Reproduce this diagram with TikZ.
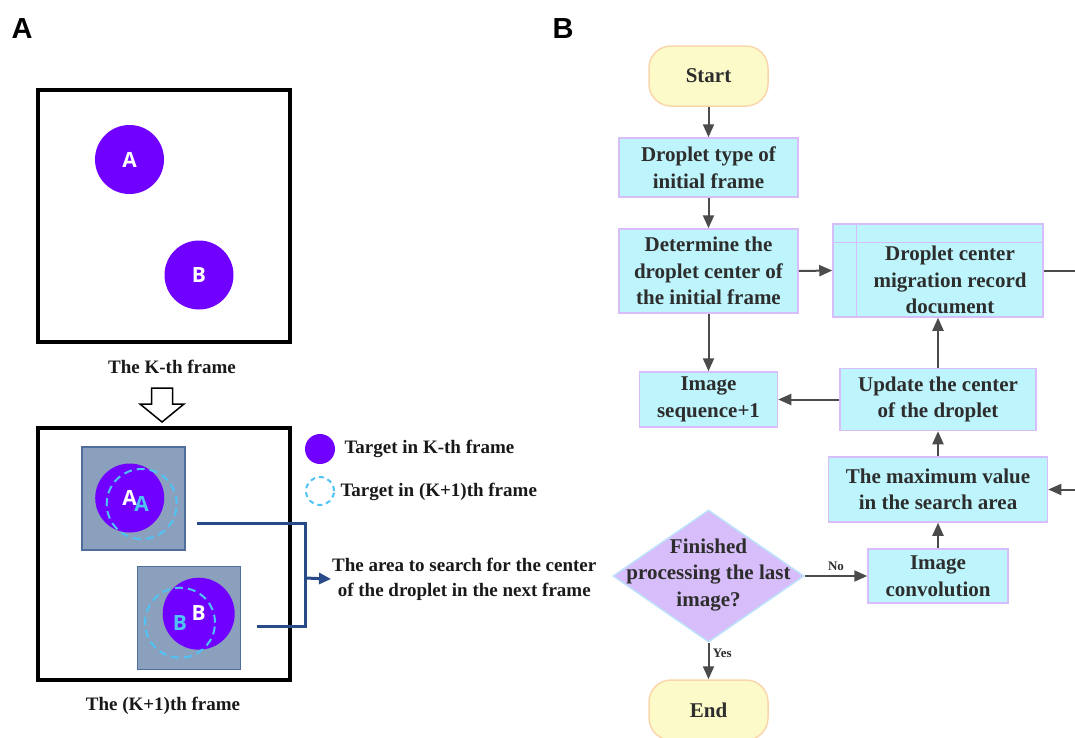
\documentclass[tikz,border=0pt]{standalone}
\usepackage{fontspec}
\setmainfont{Liberation Serif}
\newfontfamily\panelfont{Liberation Sans}
\newfontfamily\circfont{Open Sans}
\usetikzlibrary{shapes.geometric,arrows.meta}
\definecolor{purp}{RGB}{112,0,255}
\definecolor{ghostc}{RGB}{80,195,245}
\definecolor{sqf}{RGB}{138,160,188}
\definecolor{sqb}{RGB}{80,110,155}
\definecolor{connc}{RGB}{40,75,135}
\definecolor{termf}{RGB}{252,250,200}
\definecolor{termb}{RGB}{250,215,170}
\definecolor{procf}{RGB}{190,245,252}
\definecolor{procb}{RGB}{215,190,250}
\definecolor{decf}{RGB}{215,190,250}
\definecolor{decb}{RGB}{190,225,250}
\definecolor{arrc}{RGB}{75,75,75}
\definecolor{txtc}{RGB}{45,45,45}
\tikzset{
  panel/.style={font=\panelfont\bfseries\fontsize{29}{29}\selectfont, inner sep=0pt},
  frame/.style={draw=black, line width=4pt, minimum size=252pt, inner sep=0pt},
  drop/.style={circle, fill=purp, minimum size=69pt, inner sep=0pt, text=white, font=\circfont\bfseries\fontsize{21}{21}\selectfont},
  ghost/.style={circle, draw=ghostc, dash pattern=on 8pt off 5pt, line width=2pt, minimum size=70pt, inner sep=0pt, text=ghostc, font=\circfont\bfseries\fontsize{21}{21}\selectfont},
  sq/.style={draw=sqb, fill=sqf, line width=1.2pt, minimum size=103pt, inner sep=0pt},
  lab/.style={font=\bfseries\fontsize{19}{25}\selectfont, text=black!90},
  conn/.style={draw=connc, line width=3pt},
  ftxt/.style={font=\bfseries\fontsize{21}{26.5}\selectfont, text=txtc, align=center},
  term/.style={ftxt, rectangle, rounded corners=22pt, draw=termb, fill=termf, line width=1.5pt, minimum width=119pt, minimum height=60pt},
  proc/.style={ftxt, rectangle, draw=procb, fill=procf, line width=1.5pt, inner sep=0pt},
  dec/.style={diamond, draw=decb, fill=decf, line width=1.5pt, minimum width=191pt, minimum height=132pt, inner sep=0pt, aspect=1.447},
  flow/.style={draw=arrc, line width=2pt, -{Triangle[length=13pt,width=11pt]}},
  small/.style={font=\bfseries\fontsize{13}{13}\selectfont, text=txtc}
}
\begin{document}
\begin{tikzpicture}[x=1pt,y=-1pt]
\useasboundingbox (0,0) rectangle (1075,737);
\clip (0,0) rectangle (1075,737);
\fill[white] (0,0) rectangle (1075,737);

% ---------- Panel A ----------
\node[panel] (pa) at (22,29) {A};
\node[panel] (pb) at (563,29) {B};

\node[frame] (f1) at (164,216) {};
\node[drop] (da) at (129.5,159.5) {A};
\node[drop] (db) at (199,275) {B};
\node[lab] (l1) at (172,367) {The K-th frame};

\draw[black, line width=1.5pt, fill=white, line join=miter]
  (151.5,388) -- (172.5,388) -- (172.5,404) -- (184,404) -- (162,422)
  -- (140,404) -- (151.5,404) -- cycle;

\node[frame] (f2) at (164,553.5) {};
\node[sq] (sa) at (133.5,498.5) {};
\node[sq] (sb) at (189,618) {};
\node[drop] (da2) at (129.7,498) {A};
\node[ghost] (ga2) at (141.7,504) {\raisebox{-2pt}{A}};
\node[drop, minimum size=72pt] (db2) at (198.7,613.7) {\raisebox{2pt}{B}};
\node[ghost] (gb2) at (180,622.7) {B};
\node[lab] (l2) at (163,706) {The (K+1)th frame};

% legend
\node[drop, minimum size=30pt] (lg1) at (320,449) {};
\node[ghost, minimum size=28pt, dash pattern=on 5pt off 4pt] (lg2) at (320,491) {};
\node[lab, anchor=west] (lt1) at (341,449) {Target in K-th frame};
\node[lab, anchor=west] (lt2) at (337,492) {Target in (K+1)th frame};

\node[lab, align=center, anchor=west, inner sep=1pt] (area) at (331,579)
  {The area to search for the center\\of the droplet in the next frame};

\coordinate (ca) at (197,523);
\coordinate (cb) at (257,626);
\coordinate (cj) at (305,578);
\draw[conn] (ca) -| (cj) |- (cb);
\draw[conn, -{Triangle[length=12pt,width=11pt]}] (cj) -- (area.west);

% ---------- Panel B ----------
\node[term] (start) at (708.5,76) {Start};
\node[proc, minimum width=179pt, minimum height=59pt] (dtype) at (708.5,167.5) {Droplet type of\\initial frame};
\node[proc, minimum width=179pt, minimum height=84pt] (det) at (708.5,271) {Determine the\\droplet center of\\the initial frame};
\node[proc, minimum width=210pt, minimum height=93pt] (doc) at (938,270.5) {};
\draw[procb, line width=1.5pt] ([xshift=24pt]doc.north west) -- ([xshift=24pt]doc.south west);
\draw[procb, line width=1.5pt] ([yshift=-19pt]doc.north west) -- ([yshift=-19pt]doc.north east);
\node[ftxt] (doct) at (950,280) {Droplet center\\migration record\\document};

\node[proc, minimum width=138pt, minimum height=55pt] (seq) at (708.5,399.5) {Image\\sequence+1};
\node[proc, minimum width=196pt, minimum height=62pt] (upd) at (938,399.5) {Update the center\\of the droplet};
\node[proc, minimum width=219pt, minimum height=65pt] (max) at (938,489.5) {The maximum value\\in the search area};
\node[proc, minimum width=140pt, minimum height=54pt] (conv) at (938,576) {Image\\convolution};
\node[dec] (dia) at (708.5,576) {};
\node[ftxt] (diat) at (708.5,575) {Finished\\processing the last\\image?};
\node[term] (end) at (708.5,710) {End};

\draw[flow] (start.south) -- (dtype.north);
\draw[flow] (dtype.south) -- (det.north);
\draw[flow] (det.east) -- (doc.west);
\draw[flow] (det.south) -- (seq.north);
\draw[flow] (upd.west) -- (seq.east);
\draw[flow] (upd.north) -- (doc.south);
\draw[flow] (max.north) -- (upd.south);
\draw[flow] (conv.north) -- (max.south);
\draw[flow] (dia.east) -- node[small, above, pos=0.5, yshift=1pt] {No} (conv.west);
\draw[flow] (dia.south) -- node[small, right, pos=0.3] {Yes} (end.north);
\draw[flow] (doc.east) -- (1090,270.5) |- (max.east);
\end{tikzpicture}
\end{document}
